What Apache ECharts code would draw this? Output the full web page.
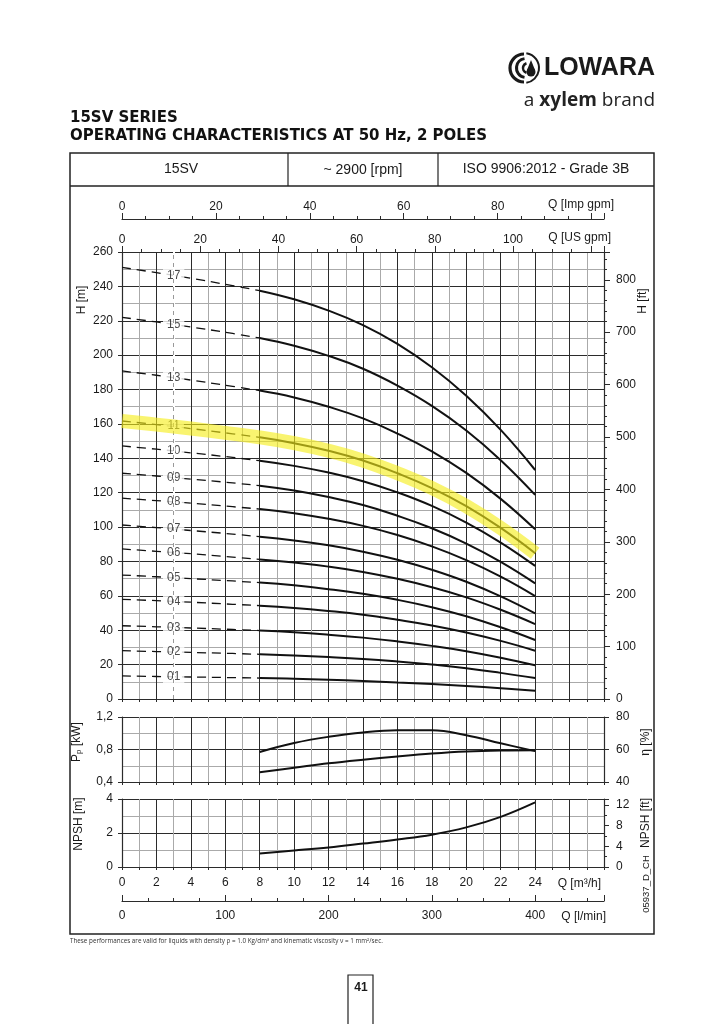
<!DOCTYPE html>
<html><head><meta charset="utf-8">
<script src="https://cdn.jsdelivr.net/npm/echarts@6/dist/echarts.min.js"></script>
<style>html,body{margin:0;padding:0;background:#fff}#c{width:724px;height:1024px}</style>
</head><body><div id="c"></div>
<script>
// ---------- DATA ----------
const qPoints = [0, 2, 4, 6, 8, 10, 12, 14, 16, 18, 20, 22, 24];           // Q [m3/h]
const h01 = [13.4, 13.1, 12.8, 12.5, 12.2, 11.8, 11.2, 10.5, 9.6, 8.7, 7.6, 6.3, 4.8];
const h02 = [28.1, 27.6, 27.1, 26.6, 26.0, 25.3, 24.4, 23.3, 21.8, 20.0, 17.9, 15.2, 12.2];
const h03 = [42.6, 42.0, 41.3, 40.6, 39.8, 38.8, 37.4, 35.7, 33.5, 30.9, 27.8, 24.0, 19.6];
const h04 = [58.0, 57.2, 56.3, 55.3, 54.3, 53.0, 51.2, 49.0, 46.1, 42.8, 38.7, 33.8, 28.1];
const h05 = [72.1, 71.1, 70.0, 68.9, 67.7, 66.1, 63.9, 61.2, 57.7, 53.4, 48.1, 41.7, 34.3];
const h06 = [87.3, 85.9, 84.5, 82.9, 81.2, 79.4, 77.0, 73.9, 69.9, 65.0, 59.1, 51.9, 43.6];
const h07 = [101.2, 99.7, 98.0, 96.3, 94.4, 92.2, 89.4, 85.7, 81.0, 75.2, 68.2, 59.7, 49.8];
const h08 = [116.8, 115.4, 113.9, 112.2, 110.5, 108.1, 104.8, 100.7, 95.4, 88.8, 80.8, 71.2, 59.9];
const h09 = [131.3, 129.7, 127.9, 126.1, 124.1, 121.3, 117.5, 112.8, 106.6, 99.3, 90.4, 79.8, 67.3];
const h10 = [147.2, 145.3, 143.2, 141.0, 138.6, 135.6, 131.7, 126.7, 120.2, 112.3, 102.6, 91.0, 77.4];
const h11 = [161.7, 159.6, 157.3, 154.8, 152.2, 148.8, 144.4, 138.7, 131.3, 122.7, 112.2, 99.5, 84.8];
const h13 = [190.8, 188.3, 185.5, 182.5, 179.4, 175.4, 170.0, 163.2, 154.4, 144.1, 131.5, 116.4, 98.7];
const h15 = [222.0, 219.3, 216.4, 213.3, 210.0, 205.5, 199.6, 192.1, 182.3, 170.5, 156.2, 138.9, 118.7];
const h17 = [251.0, 248.0, 244.7, 241.2, 237.5, 232.5, 225.9, 217.5, 206.6, 193.0, 176.4, 156.5, 133.2];
const stageNames = ['01', '02', '03', '04', '05', '06', '07', '08', '09', '10', '11', '13', '15', '17'];
const stageLabelQ = 3;
const stageLabelH = [13.0, 27.3, 41.6, 56.7, 70.6, 85.2, 98.9, 114.6, 128.8, 144.3, 158.7, 186.8, 218.0, 246.0];
const highlightedStage = '11';

const qPerf = [8, 10, 12, 14, 16, 18, 20, 22, 24];
const etaPct = [58.5, 64.0, 67.8, 70.5, 71.8, 71.8, 68.8, 63.8, 59.0];
const kwStage = [0.52, 0.575, 0.63, 0.675, 0.715, 0.75, 0.775, 0.787, 0.79];
const npshM = [0.8, 0.97, 1.15, 1.38, 1.62, 1.9, 2.33, 2.95, 3.8];

// ---------- CHART ----------
const curves = [h01, h02, h03, h04, h05, h06, h07, h08, h09, h10, h11, h13, h15, h17];
const QMAX = 28;
const M3H_USGPM = 4.402868, M3H_IMPGPM = 3.666154, M3H_LMIN = 1000 / 60;
const M_FT = 1 / 0.3048;
const FONT = "'Liberation Sans', Arial, sans-serif";
const DARK = '#2b2b2b', LIGHT = '#aaaaaa', TXT = '#1a1a1a';
const GL = 122, GW = 482;
const SMOOTH = 0.45;

const lbl = (extra) => Object.assign({fontFamily: FONT, fontSize: 12, color: TXT}, extra || {});
const noSplit = {show: false};
const axLine = (show) => ({show: show, onZero: false, lineStyle: {color: DARK, width: 1.2}});

const xAxes = [
  {gridIndex: 0, type: 'value', position: 'bottom', min: 0, max: QMAX, interval: 1, axisLine: axLine(true),
   axisTick: {show: true, length: 3, lineStyle: {color: DARK}}, axisLabel: {show: false},
   splitLine: {show: true, lineStyle: {color: [DARK, LIGHT], width: 1}}},
  {gridIndex: 0, type: 'value', position: 'top', min: 0, max: QMAX * M3H_USGPM, interval: 20,
   axisLine: axLine(true), axisTick: {show: true, length: 6, lineStyle: {color: DARK}},
   minorTick: {show: true, splitNumber: 4, length: 3, lineStyle: {color: DARK}},
   axisLabel: lbl({margin: 6, formatter: v => (v <= 100 && Math.abs(v % 20) < 1e-6) ? String(Math.round(v)) : ''}),
   splitLine: noSplit},
  {gridIndex: 0, type: 'value', position: 'top', offset: 33, min: 0, max: QMAX * M3H_IMPGPM, interval: 20,
   axisLine: axLine(true), axisTick: {show: true, length: 6, lineStyle: {color: DARK}},
   minorTick: {show: true, splitNumber: 4, length: 3, lineStyle: {color: DARK}},
   axisLabel: lbl({margin: 6, formatter: v => (v <= 80 && Math.abs(v % 20) < 1e-6) ? String(Math.round(v)) : ''}),
   splitLine: noSplit},
  {gridIndex: 1, type: 'value', position: 'bottom', min: 0, max: QMAX, interval: 1, axisLine: axLine(true),
   axisTick: {show: true, length: 3, lineStyle: {color: DARK}}, axisLabel: {show: false},
   splitLine: {show: true, lineStyle: {color: [DARK, LIGHT], width: 1}}},
  {gridIndex: 2, type: 'value', position: 'bottom', min: 0, max: QMAX, interval: 1, axisLine: axLine(true),
   axisTick: {show: true, length: 3, lineStyle: {color: DARK}},
   axisLabel: lbl({margin: 10, formatter: v => (v % 2 === 0 && v <= 24) ? String(v) : ''}),
   splitLine: {show: true, lineStyle: {color: [DARK, LIGHT], width: 1}}},
  {gridIndex: 2, type: 'value', position: 'bottom', offset: 34, min: 0, max: QMAX * M3H_LMIN, interval: 100,
   axisLine: axLine(true), axisTick: {show: true, inside: true, length: 6, lineStyle: {color: DARK}},
   minorTick: {show: true, splitNumber: 4, length: 3, lineStyle: {color: DARK}},
   axisLabel: lbl({margin: 9, formatter: v => (v <= 400 && v % 100 === 0) ? String(v) : ''}),
   splitLine: noSplit}
];

const yAxes = [
  {gridIndex: 0, type: 'value', position: 'left', min: 0, max: 260, interval: 10, axisLine: axLine(true),
   axisTick: {show: false}, axisLabel: {show: false},
   splitLine: {show: true, lineStyle: {color: [DARK, LIGHT], width: 1}}},
  {gridIndex: 0, type: 'value', position: 'left', min: 0, max: 260, interval: 20, axisLine: axLine(false),
   axisTick: {show: true, length: 4, lineStyle: {color: DARK}}, axisLabel: lbl({margin: 9}), splitLine: noSplit},
  {gridIndex: 0, type: 'value', position: 'right', min: 0, max: 260 * M_FT, interval: 100, axisLine: axLine(true),
   axisTick: {show: true, length: 6, lineStyle: {color: DARK}},
   minorTick: {show: true, splitNumber: 5, length: 3, lineStyle: {color: DARK}},
   axisLabel: lbl({margin: 12, showMaxLabel: false, formatter: v => v % 100 === 0 ? String(v) : ''}), splitLine: noSplit},
  {gridIndex: 1, type: 'value', position: 'left', min: 0.4, max: 1.2, interval: 0.2, axisLine: axLine(true),
   axisTick: {show: false}, axisLabel: {show: false},
   splitLine: {show: true, lineStyle: {color: [DARK, LIGHT], width: 1}}},
  {gridIndex: 1, type: 'value', position: 'left', min: 0.4, max: 1.2, interval: 0.4, axisLine: axLine(false),
   axisTick: {show: true, length: 4, lineStyle: {color: DARK}},
   axisLabel: lbl({margin: 9, formatter: v => v.toFixed(1).replace('.', ',')}), splitLine: noSplit},
  {gridIndex: 1, type: 'value', position: 'right', min: 40, max: 80, interval: 20, axisLine: axLine(true),
   axisTick: {show: true, length: 5, lineStyle: {color: DARK}}, axisLabel: lbl({margin: 12}), splitLine: noSplit},
  {gridIndex: 2, type: 'value', position: 'left', min: 0, max: 4, interval: 1, axisLine: axLine(true),
   axisTick: {show: false}, axisLabel: {show: false},
   splitLine: {show: true, lineStyle: {color: [DARK, LIGHT], width: 1}}},
  {gridIndex: 2, type: 'value', position: 'left', min: 0, max: 4, interval: 2, axisLine: axLine(false),
   axisTick: {show: true, length: 4, lineStyle: {color: DARK}}, axisLabel: lbl({margin: 9}), splitLine: noSplit},
  {gridIndex: 2, type: 'value', position: 'right', min: 0, max: 4 * M_FT, interval: 4, axisLine: axLine(true),
   axisTick: {show: true, length: 5, lineStyle: {color: DARK}},
   minorTick: {show: true, splitNumber: 2, length: 3, lineStyle: {color: DARK}},
   axisLabel: lbl({margin: 12, showMaxLabel: false, formatter: v => v % 4 === 0 ? String(v) : ''}), splitLine: noSplit}
];

const series = [];
curves.forEach((h) => {
  series.push({type: 'line', xAxisIndex: 0, yAxisIndex: 0, smooth: SMOOTH, symbol: 'none',
    data: qPoints.slice(0, 5).map((q, i) => [q, h[i]]),
    lineStyle: {color: '#111', width: 1.3, type: [9, 6]}, z: 2, silent: true});
  series.push({type: 'line', xAxisIndex: 0, yAxisIndex: 0, smooth: SMOOTH, symbol: 'none',
    data: qPoints.slice(4).map((q, i) => [q, h[i + 4]]),
    lineStyle: {color: '#111', width: 2}, z: 2, silent: true});
});
series.push({type: 'scatter', xAxisIndex: 0, yAxisIndex: 0, symbol: 'rect', symbolSize: 1,
  itemStyle: {color: 'rgba(0,0,0,0)'}, z: 3, silent: true,
  data: stageNames.map((n, i) => [stageLabelQ, stageLabelH[i], n]),
  label: {show: true, position: 'inside', formatter: p => p.value[2], backgroundColor: '#fff',
    padding: [1, 4], fontFamily: FONT, fontSize: 12, color: TXT},
  markLine: {silent: true, symbol: ['none', 'none'], label: {show: false},
    data: [{xAxis: stageLabelQ, lineStyle: {color: '#fff', type: 'solid', width: 2}},
           {xAxis: stageLabelQ, lineStyle: {color: '#999', type: [4, 4], width: 1}}]}
});
const hl = curves[stageNames.indexOf(highlightedStage)];
series.push({type: 'line', xAxisIndex: 0, yAxisIndex: 0, smooth: SMOOTH, symbol: 'none',
  data: qPoints.map((q, i) => [q, hl[i]]), z: 6, silent: true,
  lineStyle: {color: 'rgba(245,238,25,0.62)', width: 14, cap: 'butt'}});
series.push({type: 'line', xAxisIndex: 3, yAxisIndex: 5, smooth: 0.4, symbol: 'none', silent: true,
  data: qPerf.map((q, i) => i === 0 ? {value: [q, etaPct[i]],
    label: {show: true, position: 'left', formatter: 'η', distance: 7, offset: [0, -6], fontFamily: FONT, fontSize: 12, color: TXT}} : [q, etaPct[i]]),
  lineStyle: {color: '#111', width: 2}});
series.push({type: 'line', xAxisIndex: 3, yAxisIndex: 3, smooth: 0.4, symbol: 'none', silent: true,
  data: qPerf.map((q, i) => i === 0 ? {value: [q, kwStage[i]],
    label: {show: true, position: 'left', formatter: 'kW/stage', distance: 4, offset: [0, 0], fontFamily: FONT, fontSize: 12, color: TXT}} : [q, kwStage[i]]),
  lineStyle: {color: '#111', width: 2}});
series.push({type: 'line', xAxisIndex: 4, yAxisIndex: 6, smooth: 0.4, symbol: 'none', silent: true,
  data: qPerf.map((q, i) => [q, npshM[i]]), lineStyle: {color: '#111', width: 2}});

const T = (x, y, text, extra) => ({type: 'text', x: x, y: y, silent: true,
  style: Object.assign({text: text, fontFamily: FONT, fontSize: 12, fill: TXT, textAlign: 'left', textVerticalAlign: 'middle'}, extra || {})});
const RT = (x, y, text, extra) => ({type: 'text', x: x, y: y, rotation: Math.PI / 2, silent: true,
  style: Object.assign({text: text, fontFamily: FONT, fontSize: 12, fill: TXT, textAlign: 'center', textVerticalAlign: 'middle'}, extra || {})});
const TITLE_FONT = "'DejaVu Sans', 'Noto Sans', sans-serif";

const graphic = [
  {type: 'rect', shape: {x: 70, y: 153, width: 584, height: 781}, style: {fill: null, stroke: '#222', lineWidth: 1.5}, silent: true},
  {type: 'line', shape: {x1: 70, y1: 186, x2: 654, y2: 186}, style: {stroke: '#222', lineWidth: 1.5}, silent: true},
  {type: 'line', shape: {x1: 288, y1: 153, x2: 288, y2: 186}, style: {stroke: '#222', lineWidth: 1.2}, silent: true},
  {type: 'line', shape: {x1: 438, y1: 153, x2: 438, y2: 186}, style: {stroke: '#222', lineWidth: 1.2}, silent: true},
  T(181, 169, '15SV', {fontSize: 14, textAlign: 'center'}),
  T(363, 170, '~ 2900 [rpm]', {fontSize: 14, textAlign: 'center'}),
  T(546, 169, 'ISO 9906:2012 - Grade 3B', {fontSize: 14, textAlign: 'center'}),
  T(70, 118, '15SV SERIES', {fontFamily: TITLE_FONT, fontWeight: 'bold', fontSize: 15, fill: '#111'}),
  T(70, 136, 'OPERATING CHARACTERISTICS AT 50 Hz, 2 POLES', {fontFamily: TITLE_FONT, fontWeight: 'bold', fontSize: 15, fill: '#111'}),
  // logo
  {type: 'arc', shape: {cx: 524, cy: 68, r: 14, startAngle: Math.PI * 0.5, endAngle: Math.PI * 1.5}, style: {fill: null, stroke: '#1a1a1a', lineWidth: 3.2}, silent: true},
  {type: 'arc', shape: {cx: 526, cy: 68, r: 9.5, startAngle: Math.PI * 0.55, endAngle: Math.PI * 1.45}, style: {fill: null, stroke: '#1a1a1a', lineWidth: 3}, silent: true},
  {type: 'arc', shape: {cx: 528, cy: 68, r: 5, startAngle: Math.PI * 0.6, endAngle: Math.PI * 1.4}, style: {fill: null, stroke: '#1a1a1a', lineWidth: 2.6}, silent: true},
  {type: 'circle', shape: {cx: 531, cy: 72, r: 4.5}, style: {fill: '#1a1a1a'}, silent: true},
  {type: 'polygon', shape: {points: [[531, 60], [527, 70], [535, 70]]}, style: {fill: '#1a1a1a'}, silent: true},
  {type: 'arc', shape: {cx: 524, cy: 68, r: 15, startAngle: -Math.PI * 0.45, endAngle: Math.PI * 0.45}, style: {fill: null, stroke: '#1a1a1a', lineWidth: 2}, silent: true},
  T(655, 68, 'LOWARA', {fontFamily: "'Liberation Sans', Arial, sans-serif", fontWeight: 'bold', fontSize: 25, textAlign: 'right', fill: '#1a1a1a'}),
  {type: 'text', x: 655, y: 101, silent: true, style: {text: '{r|a }{b|xylem}{r| brand}', textAlign: 'right', textVerticalAlign: 'middle',
    rich: {r: {fontFamily: "'Open Sans', 'Noto Sans', sans-serif", fontSize: 19, fill: '#222'},
           b: {fontFamily: "'Open Sans', 'Noto Sans', sans-serif", fontSize: 19, fontWeight: 'bold', fill: '#222'}}}},
  T(614, 205, 'Q [Imp gpm]', {textAlign: 'right'}),
  T(611, 238, 'Q [US gpm]', {textAlign: 'right'}),
  T(601, 884, 'Q [m³/h]', {textAlign: 'right'}),
  T(606, 917, 'Q [l/min]', {textAlign: 'right'}),
  RT(82, 300, 'H [m]'),
  RT(643, 301, 'H [ft]'),
  {type: 'text', x: 77, y: 742, rotation: Math.PI / 2, silent: true, style: {text: 'P{s|p} [kW]', textAlign: 'center', textVerticalAlign: 'middle',
    fontFamily: FONT, fontSize: 12, fill: TXT, rich: {s: {fontFamily: FONT, fontSize: 8, fill: TXT, verticalAlign: 'bottom', padding: [4, 0, 0, 0]}}}},
  RT(646, 742, 'η [%]'),
  RT(79, 824, 'NPSH [m]'),
  RT(646, 823, 'NPSH [ft]'),
  RT(646, 884, '05937_D_CH', {fontSize: 9.5}),
  T(70, 941, 'These performances are valid for liquids with density ρ = 1.0 Kg/dm³ and kinematic viscosity ν = 1 mm²/sec.',
    {fontFamily: "'Open Sans', 'Noto Sans', sans-serif", fontSize: 6.3, fill: '#333'}),
  {type: 'polyline', shape: {points: [[348, 1024], [348, 975], [373, 975], [373, 1024]]}, style: {fill: null, stroke: '#222', lineWidth: 1.2}, silent: true},
  T(361, 988, '41', {fontWeight: 'bold', fontSize: 12, textAlign: 'center'})
];

const chart = echarts.init(document.getElementById('c'), null, {renderer: 'canvas'});
chart.setOption({
  animation: false,
  backgroundColor: '#fff',
  grid: [
    {left: GL, width: GW, top: 252, height: 447},
    {left: GL, width: GW, top: 717, height: 65},
    {left: GL, width: GW, top: 799, height: 68}
  ],
  xAxis: xAxes,
  yAxis: yAxes,
  series: series,
  graphic: graphic
});
</script></body></html>
